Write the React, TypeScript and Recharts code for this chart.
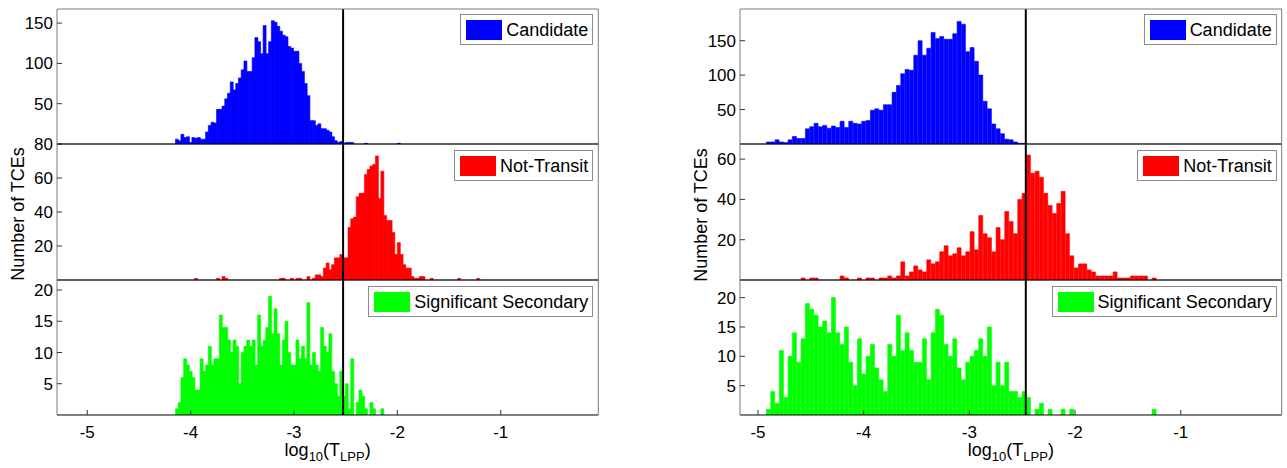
import { ComposedChart, Bar, Line, XAxis, YAxis, ReferenceLine } from "recharts";

const FONT = "'Liberation Sans', Arial, Helvetica, sans-serif";

// histogram bins (left edge of first bin, bin width) for each column
const leftBinStart = -4.147;
const leftBinWidth = 0.0265;
const rightBinStart = -4.92;
const rightBinWidth = 0.041;

const xTicks = [-5, -4, -3, -2, -1];
const leftXDomain: [number, number] = [-5.293, -0.056];
const rightXDomain: [number, number] = [-5.17, -0.045];
const leftThreshold = -2.525;
const rightThreshold = -2.466;

// counts per bin
const leftCandidate = [
  6, 4, 12, 8, 9, 2, 8, 7, 8, 6,
  6, 15, 23, 27, 26, 43, 43, 47, 56, 63,
  77, 67, 75, 82, 92, 103, 90, 90, 107, 132,
  127, 112, 147, 112, 127, 153, 151, 146, 140, 135,
  133, 121, 119, 115, 115, 100, 90, 75, 60, 29,
  29, 23, 25, 19, 19, 17, 15, 9, 4, 2,
  3, 1, 2, 2, 2, 0, 0, 0, 0, 1,
  0, 0, 0, 0, 0, 0, 0, 0, 0, 0,
  0, 1,
];
const leftNotTransit = [
  0, 0, 0, 0, 0, 0, 0, 1, 0, 0,
  0, 0, 0, 0, 0, 1, 0, 2, 1, 0,
  0, 0, 0, 0, 0, 0, 0, 0, 0, 0,
  0, 0, 0, 0, 0, 0, 0, 0, 1, 1,
  0, 0, 1, 0, 1, 1, 0, 0, 2, 0,
  1, 3, 3, 2, 7, 10, 6, 9, 13, 13,
  15, 13, 13, 31, 36, 37, 49, 51, 51, 62,
  65, 67, 68, 73, 48, 64, 38, 35, 35, 28,
  15, 22, 15, 9, 7, 7, 2, 1, 1, 2,
  2, 0, 0, 1, 0, 0, 0, 0, 0, 0,
  0, 0, 0, 1, 0, 0, 0, 0, 0, 0,
  1,
];
const leftSecondary = [
  1, 2, 6, 9, 8, 7, 6, 4, 4, 9,
  7, 8, 11, 8, 9, 9, 16, 14, 14, 12,
  10, 12, 11, 5, 10, 11, 12, 11, 12, 8,
  16, 11, 12, 14, 19, 13, 17, 13, 8, 12,
  15, 10, 8, 8, 12, 9, 11, 9, 18, 8,
  10, 8, 7, 14, 11, 10, 13, 7, 5, 3,
  7, 3, 5, 1, 9, 0, 2, 4, 3, 1,
  0, 2, 1, 0, 0, 1,
];
const rightCandidate = [
  3, 3, 6, 3, 2, 6, 11, 8, 8, 22,
  25, 30, 25, 27, 23, 26, 24, 33, 24, 33,
  30, 29, 33, 34, 49, 51, 49, 57, 57, 75,
  85, 102, 108, 107, 129, 150, 129, 139, 162, 153,
  156, 152, 152, 160, 178, 174, 134, 140, 120, 100,
  62, 51, 29, 22, 15, 7, 6, 3, 1, 1,
];
const rightNotTransit = [
  0, 0, 0, 0, 0, 0, 0, 0,
  1, 0, 1, 1, 0, 0, 0, 0, 0, 2,
  1, 0, 0, 1, 0, 1, 1, 0, 1, 1,
  2, 1, 2, 9, 2, 4, 7, 5, 4, 10,
  8, 9, 14, 17, 12, 13, 16, 12, 14, 24,
  15, 32, 23, 21, 14, 26, 20, 34, 29, 23,
  40, 43, 62, 53, 54, 51, 43, 37, 33, 38,
  44, 23, 12, 6, 8, 8, 5, 4, 2, 2,
  2, 2, 4, 1, 1, 1, 2, 2, 2, 2,
  0, 1,
];
const rightSecondary = [
  1, 4, 2, 11, 3, 10, 14, 9, 13, 19,
  18, 17, 15, 16, 14, 20, 14, 12, 15, 9,
  5, 13, 7, 10, 12, 8, 6, 4, 12, 10,
  17, 11, 14, 11, 9, 9, 13, 6, 14, 18,
  17, 12, 10, 13, 8, 6, 9, 10, 11, 13,
  10, 15, 5, 9, 5, 9, 4, 4, 3, 4,
  3, 0, 1, 2, 0, 1, 0, 0, 1, 0,
  1, 0, 0, 0, 0, 0, 0, 0, 0, 0,
  0, 0, 0, 0, 0, 0, 0, 0, 0, 1,
];

const toRows = (counts: number[], start: number, width: number) =>
  counts.map((n, i) => ({ x: +(start + (i + 0.5) * width).toFixed(5), n }));

const Y_AXIS_W = 60;
const PAD = 12;
// an axis of zero size is not drawn at all, so the box axes get 1px
const THIN = 1;

type SubplotProps = {
  plotLeft: number;
  plotTop: number;
  plotW: number;
  plotH: number;
  rows: { x: number; n: number }[];
  color: string;
  xDomain: [number, number];
  yDomain: [number, number];
  yTicks: number[];
  threshold: number;
  bottom?: boolean;
};

const Subplot = ({ plotLeft, plotTop, plotW, plotH, rows, color, xDomain, yDomain, yTicks, threshold, bottom }: SubplotProps) => {
  const xAxisH = bottom ? 40 : THIN;
  const width = Y_AXIS_W + plotW + PAD;
  const height = PAD + plotH + (bottom ? 40 : PAD);
  return (
    <div style={{ position: "absolute", left: plotLeft - Y_AXIS_W, top: plotTop - PAD }}>
      <ComposedChart
        width={width}
        height={height}
        data={rows}
        margin={{ top: PAD - THIN, right: PAD - THIN, left: 0, bottom: bottom ? 0 : PAD - THIN }}
        barCategoryGap={0}
        barGap={0}
      >
        <XAxis
          dataKey="x"
          type="number"
          domain={xDomain}
          ticks={xTicks}
          allowDataOverflow
          interval={0}
          height={xAxisH}
          tick={bottom ? { fill: "#000", fontSize: 17, fontFamily: FONT } : false}
          tickSize={-5}
          tickMargin={16}
          axisLine={{ stroke: "#000" }}
          tickLine={{ stroke: "#333" }}
        />
        <XAxis
          xAxisId="top"
          orientation="top"
          dataKey="x"
          type="number"
          domain={xDomain}
          ticks={xTicks}
          allowDataOverflow
          interval={0}
          height={THIN}
          tick={false}
          tickSize={-5}
          axisLine={{ stroke: "#7a7a7a" }}
          tickLine={{ stroke: "#333" }}
        />
        <YAxis
          type="number"
          domain={yDomain}
          ticks={yTicks}
          allowDataOverflow
          interval={0}
          width={Y_AXIS_W}
          tickSize={-5}
          tickMargin={9}
          tick={{ fill: "#000", fontSize: 17, fontFamily: FONT }}
          axisLine={{ stroke: "#7a7a7a" }}
          tickLine={{ stroke: "#333" }}
        />
        <YAxis
          yAxisId="right"
          orientation="right"
          type="number"
          domain={yDomain}
          ticks={yTicks}
          allowDataOverflow
          interval={0}
          width={THIN}
          tick={false}
          tickSize={-5}
          axisLine={{ stroke: "#7a7a7a" }}
          tickLine={{ stroke: "#333" }}
        />
        <Bar dataKey="n" fill={color} stroke={color} strokeWidth={0.6} isAnimationActive={false} />
        <Line
          xAxisId="top"
          yAxisId="right"
          dataKey="n"
          stroke="none"
          dot={false}
          activeDot={false}
          isAnimationActive={false}
        />
        <ReferenceLine x={threshold} stroke="#000" strokeWidth={2} />
      </ComposedChart>
    </div>
  );
};

const LegendBox = ({ label, color, right, top }: { label: string; color: string; right: number; top: number }) => (
  <div
    style={{
      position: "absolute",
      right,
      top,
      height: 29,
      display: "flex",
      alignItems: "center",
      border: "1px solid #8c8c8c",
      background: "#fff",
      padding: "0 4px 0 5px",
      fontSize: 18,
      fontFamily: FONT,
      lineHeight: "20px",
      whiteSpace: "nowrap",
    }}
  >
    <span style={{ display: "inline-block", width: 36, height: 20, background: color, marginRight: 4 }} />
    <span>{label}</span>
  </div>
);

const XLabel = ({ cx }: { cx: number }) => (
  <div
    style={{
      position: "absolute",
      left: cx,
      top: 440,
      transform: "translateX(-50%)",
      fontSize: 18,
      fontFamily: FONT,
      lineHeight: "20px",
      whiteSpace: "nowrap",
    }}
  >
    log<span style={{ fontSize: 13, position: "relative", top: 5 }}>10</span>(T
    <span style={{ fontSize: 13, position: "relative", top: 5 }}>LPP</span>)
  </div>
);

const YLabel = ({ cx, cy }: { cx: number; cy: number }) => (
  <div
    style={{
      position: "absolute",
      left: cx,
      top: cy,
      transform: "translate(-50%, -50%) rotate(-90deg)",
      fontSize: 18,
      fontFamily: FONT,
      lineHeight: "20px",
      whiteSpace: "nowrap",
    }}
  >
    Number of TCEs
  </div>
);

const ROW_TOP = [9, 144, 280];
const ROW_H = [135, 136, 135];
const BLUE = "#0000ff";
const RED = "#ff0000";
const GREEN = "#00ff00";

export default function App() {
  const L = { plotLeft: 57, plotW: 541.3, xDomain: leftXDomain, threshold: leftThreshold };
  const R = { plotLeft: 740, plotW: 541.7, xDomain: rightXDomain, threshold: rightThreshold };
  const leftRight = 1287 - (L.plotLeft + L.plotW - 5);
  const rightRight = 1287 - (R.plotLeft + R.plotW - 5);

  return (
    <div style={{ position: "absolute", left: 0, top: 0, width: 1287, height: 468, background: "#fff", overflow: "hidden", fontFamily: FONT }}>
      {/* drawn bottom row first so each black baseline lies over the box line below it */}
      <Subplot {...L} plotTop={ROW_TOP[2]} plotH={ROW_H[2]} rows={toRows(leftSecondary, leftBinStart, leftBinWidth)} color={GREEN} yDomain={[0, 21.6]} yTicks={[5, 10, 15, 20]} bottom />
      <Subplot {...L} plotTop={ROW_TOP[1]} plotH={ROW_H[1]} rows={toRows(leftNotTransit, leftBinStart, leftBinWidth)} color={RED} yDomain={[0, 80]} yTicks={[20, 40, 60, 80]} />
      <Subplot {...L} plotTop={ROW_TOP[0]} plotH={ROW_H[0]} rows={toRows(leftCandidate, leftBinStart, leftBinWidth)} color={BLUE} yDomain={[0, 167.5]} yTicks={[50, 100, 150]} />

      <Subplot {...R} plotTop={ROW_TOP[2]} plotH={ROW_H[2]} rows={toRows(rightSecondary, rightBinStart, rightBinWidth)} color={GREEN} yDomain={[0, 23]} yTicks={[5, 10, 15, 20]} bottom />
      <Subplot {...R} plotTop={ROW_TOP[1]} plotH={ROW_H[1]} rows={toRows(rightNotTransit, rightBinStart, rightBinWidth)} color={RED} yDomain={[0, 67.5]} yTicks={[20, 40, 60]} />
      <Subplot {...R} plotTop={ROW_TOP[0]} plotH={ROW_H[0]} rows={toRows(rightCandidate, rightBinStart, rightBinWidth)} color={BLUE} yDomain={[0, 196]} yTicks={[50, 100, 150]} />

      <LegendBox label="Candidate" color={BLUE} right={leftRight} top={ROW_TOP[0] + 5} />
      <LegendBox label="Not-Transit" color={RED} right={leftRight} top={ROW_TOP[1] + 6} />
      <LegendBox label="Significant Secondary" color={GREEN} right={leftRight} top={ROW_TOP[2] + 6} />
      <LegendBox label="Candidate" color={BLUE} right={rightRight} top={ROW_TOP[0] + 5} />
      <LegendBox label="Not-Transit" color={RED} right={rightRight} top={ROW_TOP[1] + 6} />
      <LegendBox label="Significant Secondary" color={GREEN} right={rightRight} top={ROW_TOP[2] + 6} />

      <XLabel cx={L.plotLeft + L.plotW / 2} />
      <XLabel cx={R.plotLeft + R.plotW / 2} />
      <YLabel cx={17.5} cy={213.5} />
      <YLabel cx={700.5} cy={215} />
    </div>
  );
}
